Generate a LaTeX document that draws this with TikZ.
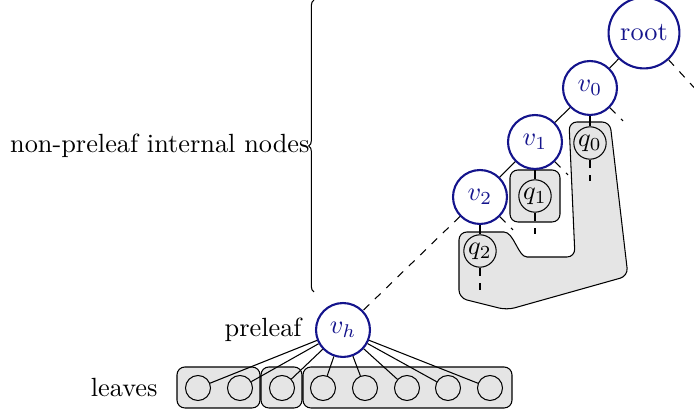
\documentclass[tikz,border=0pt]{standalone}
\usetikzlibrary{decorations.pathreplacing,positioning}
\definecolor{navy}{RGB}{20,20,140}
\tikzset{
  vn/.style={circle, draw=navy, line width=0.8pt, text=navy, minimum size=20.5pt, inner sep=3pt},
  qn/.style={circle, draw, minimum size=12.2pt, inner sep=0.5pt},
  lf/.style={circle, draw, minimum size=9.5pt, inner sep=0pt},
  grp/.style={draw, fill=gray!20, rounded corners=3pt},
  edge/.style={draw, line width=0.4pt},
  dedge/.style={draw, dashed, line width=0.4pt},
  lbl/.style={anchor=east, inner sep=0pt}
}
\begin{document}
\begin{tikzpicture}[x=0.38pt, y=-0.38pt]
\useasboundingbox (0,0) rectangle (694,414);
% background groups
\path[grp] (569,122) -- (610,122) -- (628,276) -- (507,310) -- (459,298) -- (459,232) -- (496,232)
  .. controls (514,232) and (518,257) .. (535,257) -- (575,257) -- cycle;
\path[grp] (510,170) rectangle (560,222);
\path[grp] (177,367) rectangle (260,408);
\path[grp] (261,367) rectangle (302,408);
\path[grp] (303,367) rectangle (512,408);
% internal nodes
\node[vn] (root) at (644,33) {root};
\node[vn] (v0) at (590,88) {$v_0$};
\node[vn] (v1) at (535,142) {$v_1$};
\node[vn] (v2) at (480,197) {$v_2$};
\node[vn] (vh) at (343,330) {$v_h$};
\node[qn] (q0) at (590,143) {$q_0$};
\node[qn] (q1) at (535,196) {$q_1$};
\node[qn] (q2) at (480,251) {$q_2$};
% dangling ends
\coordinate (er) at (700,94);
\coordinate (e0) at (623,121);
\coordinate (e1) at (568,175);
\coordinate (e2) at (513,230);
\coordinate (d0) at (590,181);
\coordinate (d1) at (535,234);
\coordinate (d2) at (480,290);
% edges
\path[edge] (root) -- (v0);
\path[edge] (v0) -- (v1);
\path[edge] (v1) -- (v2);
\path[edge] (v0) -- (q0);
\path[edge] (v1) -- (q1);
\path[edge] (v2) -- (q2);
\path[dedge] (root) -- (er);
\path[dedge] (v0) -- (e0);
\path[dedge] (v1) -- (e1);
\path[dedge] (v2) -- (e2);
\path[dedge] (q0) -- (d0);
\path[dedge] (q1) -- (d1);
\path[dedge] (q2) -- (d2);
\path[dedge] (v2) -- (vh);
% leaves
\foreach \i/\x in {1/198,2/240,3/282,4/323,5/365,6/407,7/448,8/490} {
  \node[lf] (l\i) at (\x,388) {};
  \path[edge] (vh) -- (l\i);
}
% labels
\node[lbl] (tp) at (302,330) {preleaf};
\node[lbl] (tl) at (158,388) {leaves};
\coordinate (bb) at (314,292);
\coordinate (bt) at (314,0);
\draw[decorate, decoration={brace, amplitude=2pt}] (bb) -- (bt);
\node[lbl] (tn) at (310,146) {non-preleaf internal nodes};
\end{tikzpicture}
\end{document}
